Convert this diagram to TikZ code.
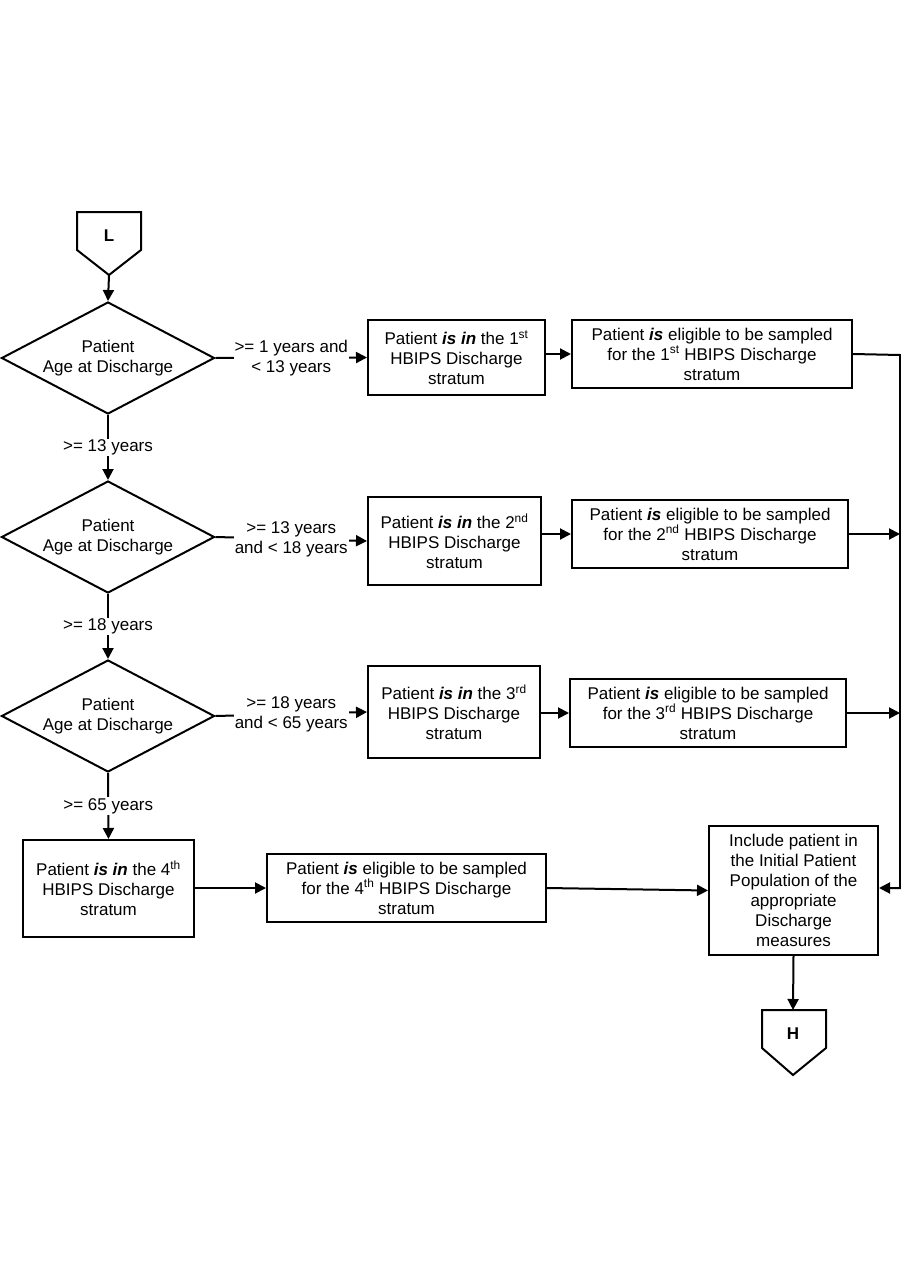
\documentclass[tikz,border=0pt]{standalone}
\usepackage{fontspec}
\setmainfont{Liberation Sans}
\usetikzlibrary{shapes.geometric,arrows.meta}
\begin{document}
\begin{tikzpicture}[x=1pt,y=-1pt,line width=2pt,
  every node/.style={font=\fontsize{17}{20}\selectfont,align=center},
  box/.style={draw,rectangle,inner sep=1pt},
  dia/.style={draw,diamond,aspect=1.9,minimum width=213pt,minimum height=112pt,inner sep=0pt},
  lab/.style={fill=white,inner sep=1pt},
  arr/.style={-{Triangle[length=11pt,width=11pt]}}]
\useasboundingbox (0,0) rectangle (901,1287);
% connectors
\draw (77,212) -- (141,212) -- (141,250) -- (109,275) -- (77,250) -- cycle;
\node at (109,236) {\textbf{L}};
\coordinate (Lb) at (109,275);
\draw (762,1010) -- (826,1010) -- (826,1048) -- (793,1075) -- (762,1048) -- cycle;
\node at (793,1034) {\textbf{H}};
\coordinate (Ht) at (793,1010);
% diamonds
\node[dia] (d1) at (108,358) {Patient\\Age at Discharge};
\node[dia] (d2) at (108,537) {Patient\\Age at Discharge};
\node[dia] (d3) at (108,716) {Patient\\Age at Discharge};
% boxes
\node[box,minimum width=177pt,minimum height=75pt] (b1) at (456.5,357.5) {Patient \textbf{\textit{is in}} the 1\textsuperscript{st}\\HBIPS Discharge\\stratum};
\node[box,minimum width=280pt,minimum height=68pt] (b2) at (712,354) {Patient \textbf{\textit{is}} eligible to be sampled\\for the 1\textsuperscript{st} HBIPS Discharge\\stratum};
\node[box,minimum width=173pt,minimum height=88pt] (b3) at (454.5,541) {Patient \textbf{\textit{is in}} the 2\textsuperscript{nd}\\HBIPS Discharge\\stratum};
\node[box,minimum width=276pt,minimum height=68pt] (b4) at (710,534) {Patient \textbf{\textit{is}} eligible to be sampled\\for the 2\textsuperscript{nd} HBIPS Discharge\\stratum};
\node[box,minimum width=172pt,minimum height=92pt] (b5) at (454,712) {Patient \textbf{\textit{is in}} the 3\textsuperscript{rd}\\HBIPS Discharge\\stratum};
\node[box,minimum width=276pt,minimum height=68pt] (b6) at (708,713) {Patient \textbf{\textit{is}} eligible to be sampled\\for the 3\textsuperscript{rd} HBIPS Discharge\\stratum};
\node[box,minimum width=171pt,minimum height=97pt] (b7) at (108.5,888.5) {Patient \textbf{\textit{is in}} the 4\textsuperscript{th}\\HBIPS Discharge\\stratum};
\node[box,minimum width=279pt,minimum height=68pt] (b8) at (406.5,888) {Patient \textbf{\textit{is}} eligible to be sampled\\for the 4\textsuperscript{th} HBIPS Discharge\\stratum};
\node[box,minimum width=169pt,minimum height=129pt] (inc) at (793.5,890.5) {Include patient in\\the Initial Patient\\Population of the\\appropriate\\Discharge\\measures};
% vertical flow
\draw[arr] (Lb) -- (d1.north);
\draw[arr] (d1.south) -- node[lab] {>= 13 years} (d2.north);
\draw[arr] (d2.south) -- node[lab] {>= 18 years} (d3.north);
\draw[arr] (d3.south) -- node[lab] {>= 65 years} (b7.north);
% horizontal
\draw[arr] (d1.east) -- node[lab] {>= 1 years and\\< 13 years} (b1.west);
\draw[arr] (d2.east) -- node[lab] {>= 13 years\\and < 18 years} (b3.west);
\draw[arr] (d3.east) -- node[lab] {>= 18 years\\and < 65 years} (b5.west);
\draw[arr] (b1.east|-b2.west) -- (b2.west);
\draw[arr] (b3.east|-b4.west) -- (b4.west);
\draw[arr] (b5.east|-b6.west) -- (b6.west);
\draw[arr] (b7.east|-b8.west) -- (b8.west);
\draw[arr] (b8.east) -- (inc.west);
\coordinate (rt) at (900,355);
\coordinate (rb) at (900,888);
\draw[arr] (b2.east) -- (rt) -- (rb) -- (inc.east|-rb);
\draw[arr] (b4.east) -- (rt|-b4.east);
\draw[arr] (b6.east) -- (rt|-b6.east);
\draw[arr] (inc.south) -- (Ht);
\end{tikzpicture}
\end{document}
